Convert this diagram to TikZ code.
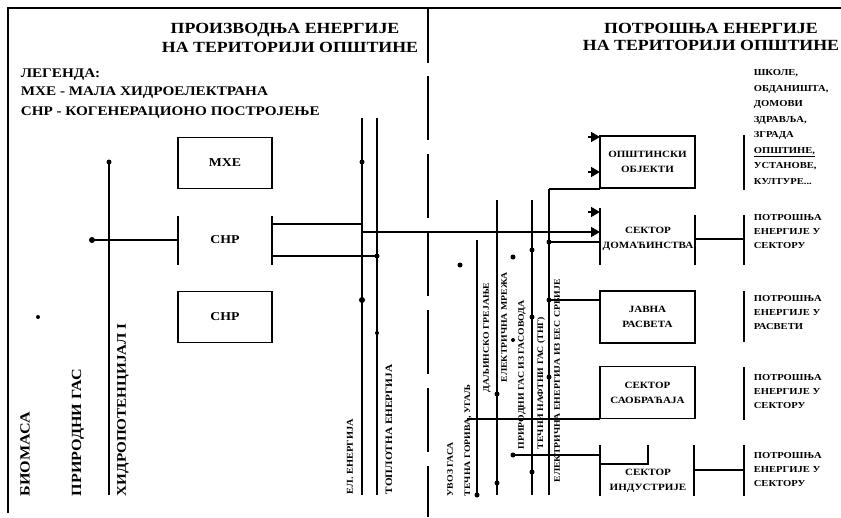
\documentclass[tikz,border=0pt]{standalone}
\usepackage{fontspec}
\setmainfont[FakeStretch=1.15]{Liberation Serif}
\usetikzlibrary{arrows.meta,positioning}

\begin{document}
\begin{tikzpicture}[x=1pt,y=-1pt,line width=1.6pt,line cap=butt,
  >={Triangle[length=9pt,width=10pt]},
  unit/.style={draw,minimum width=94pt,minimum height=51pt,inner sep=0pt,font=\fontsize{12}{13}\selectfont\bfseries},
  sector/.style={draw,minimum width=95pt,minimum height=52pt,inner sep=0pt,align=center,font=\fontsize{9.6}{15}\selectfont\bfseries},
  sectext/.style={inner sep=0pt,align=center,font=\fontsize{9.6}{15}\selectfont\bfseries},
  note/.style={anchor=north west,inner sep=0pt,align=left,font=\fontsize{9.2}{14}\selectfont\bfseries},
  vlabel/.style={rotate=90,anchor=west,inner sep=0pt,font=\fontsize{8.5}{10}\selectfont\bfseries},
  biglabel/.style={rotate=90,anchor=west,inner sep=0pt,font=\fontsize{14}{15}\selectfont\bfseries},
  legend/.style={anchor=west,inner sep=0pt,font=\fontsize{13.2}{15}\selectfont\bfseries},
  title/.style={inner sep=0pt,font=\fontsize{15.5}{18}\selectfont\bfseries},
  jdot/.style={circle,fill,inner sep=0pt,minimum size=5pt},
]
\useasboundingbox (0,0) rectangle (841,517);

% frame and divider
\draw (8,513) -- (8,8) -- (841,8);
\draw (428,8) -- (428,63);
\draw[dash pattern=on 64pt off 14pt] (428,76) -- (428,517);

% titles
\node[title] (prodA) at (285,30) {ПРОИЗВОДЊА ЕНЕРГИЈЕ};
\node[title] (prodB) at (290,47) {НА ТЕРИТОРИЈИ ОПШТИНЕ};
\node[title] (consA) at (711,28) {ПОТРОШЊА ЕНЕРГИЈЕ};
\node[title] (consB) at (711,45) {НА ТЕРИТОРИЈИ ОПШТИНЕ};

% legend
\node[legend] (leg) at (20,75) {ЛЕГЕНДА:};
\node[legend] (legA) at (20,93) {МХЕ - МАЛА ХИДРОЕЛЕКТРАНА};
\node[legend] (legB) at (20,113) {CHP - КОГЕНЕРАЦИОНО ПОСТРОЈЕЊЕ};

% production units
\node[unit] (mhe) at (225,163) {МХЕ};
\node[unit,draw=none] (chp) at (225,240) {CHP};
\node[unit] (chpB) at (225,317) {CHP};
\draw (178,216) -- (178,265);
\draw (272,216) -- (272,265);

% sources
\node[biglabel] (bio) at (25,497) {БИОМАСА};
\node[biglabel] (gas) at (78,497) {ПРИРОДНИ ГАС};
\node[biglabel,font=\fontsize{13.2}{15}\selectfont\bfseries] (hydro) at (123,497) {ХИДРОПОТЕНЦИЈАЛ I};
\node[vlabel,font=\fontsize{9}{10}\selectfont\bfseries] (el) at (350,495) {ЕЛ. ЕНЕРГИЈА};
\node[vlabel,font=\fontsize{9.8}{10}\selectfont\bfseries] (heat) at (389,495) {ТОПЛОТНА ЕНЕРГИЈА};

\coordinate (hTop) at (109,162);
\coordinate (hBot) at (109,495);
\coordinate (gIn) at (92,240);
\draw (hTop) -- (hBot);
\draw (gIn) -- (178,240);
\node[jdot] at (hTop) {};
\node[jdot,minimum size=6pt] at (gIn) {};
\node[jdot,minimum size=4pt] (lone) at (38,317) {};

% output busbars
\coordinate (eTop) at (362,118);
\coordinate (eBot) at (362,495);
\coordinate (tTop) at (377,118);
\coordinate (tBot) at (377,495);
\draw (eTop) -- (eBot);
\draw (tTop) -- (tBot);
\draw (272,224) -- (362,224);
\draw (272,256) -- (377,256);
\node[jdot] at (362,162) {};
\node[jdot,minimum size=6pt] at (362,300) {};
\node[jdot] at (377,256) {};
\node[jdot,minimum size=4pt] at (377,333) {};

% consumers
\node[sector] (obj) at (647.5,162) {ОПШТИНСКИ\\ОБЈЕКТИ};
\node[sectext] (dom) at (648,239) {СЕКТОР\\ДОМАЋИНСТВА};
\node[sector] (jr) at (647.5,317) {ЈАВНА\\РАСВЕТА};
\node[sector] (sao) at (647.5,392.5) {СЕКТОР\\САОБРАЋАЈА};
\node[sectext] (ind) at (648,481) {СЕКТОР\\ИНДУСТРИЈЕ};

\draw (600,208) -- (600,265);
\draw (695,215) -- (695,265);
\draw (600,445) -- (600,496);
\draw (694,445) -- (694,496);
\draw (600,464) -- (648,464) -- (648,445);

% imported carriers
\node[vlabel] (impA) at (450,497) {УВОЗ ГАСА};
\node[vlabel] (impB) at (468,497) {ТЕЧНА ГОРИВА, УГАЉ};
\node[vlabel] (impC) at (487,393) {ДАЉИНСКО ГРЕЈАЊЕ};
\node[vlabel] (impD) at (504,383) {ЕЛЕКТРИЧНА МРЕЖА};
\node[vlabel] (impE) at (522,450) {ПРИРОДНИ ГАС ИЗ ГАСОВОДА};
\node[vlabel] (impF) at (541,450) {ТЕЧНИ НАФТНИ ГАС (ТНГ)};
\node[vlabel] (impG) at (557,483) {ЕЛЕКТРИЧНА ЕНЕРГИЈА ИЗ ЕЕС СРБИЈЕ};

\draw (477,240) -- (477,495);
\draw (497,200) -- (497,495);
\draw (532,200) -- (532,495);
\draw (549,189) -- (549,495);

\draw[->] (362,232) -- (600,232);
\draw (549,189) -- (600,189);
\draw (549,242) -- (600,242);
\draw (549,300) -- (600,300);
\draw (467,419) -- (600,419);
\draw (513,455) -- (600,455);
\draw[->] (588,137) -- (600,137);
\draw[->] (588,172) -- (600,172);
\draw[->] (588,212) -- (600,212);

\foreach \p in {(477,495),(497,394),(497,483),(532,250),(532,317),(532,472),
  (549,242),(549,300),(549,377),(513,455),(460,265),(513,257)}
  \node[jdot] at \p {};
\node[jdot,minimum size=4pt] at (513,340) {};

% consumption notes
\draw (744,135) -- (744,190);
\draw (dom.east -| 695,0) -- (744,239);
\draw (744,215) -- (744,265);
\draw (744,291) -- (744,342);
\draw (744,367) -- (744,420);
\draw (694,470) -- (744,470);
\draw (744,445) -- (744,496);

\node[note,font=\fontsize{9.2}{15.5}\selectfont\bfseries] (nObj) at (753,69) {ШКОЛЕ,\\ОБДАНИШТА,\\ДОМОВИ\\ЗДРАВЉА,\\ЗГРАДА\\\underline{ОПШТИНЕ,}\\УСТАНОВЕ,\\КУЛТУРЕ...};
\node[note] (nDom) at (753,214) {ПОТРОШЊА\\ЕНЕРГИЈЕ У\\СЕКТОРУ};
\node[note] (nJr) at (753,295) {ПОТРОШЊА\\ЕНЕРГИЈЕ У\\РАСВЕТИ};
\node[note] (nSao) at (753,374) {ПОТРОШЊА\\ЕНЕРГИЈЕ У\\СЕКТОРУ};
\node[note] (nInd) at (753,452) {ПОТРОШЊА\\ЕНЕРГИЈЕ У\\СЕКТОРУ};
\end{tikzpicture}
\end{document}
